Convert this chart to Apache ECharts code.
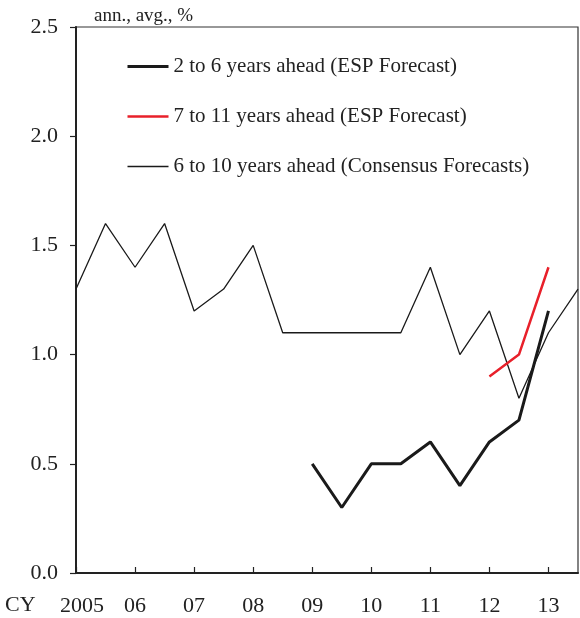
<!DOCTYPE html>
<html><head><meta charset="utf-8">
<script src="https://cdn.jsdelivr.net/npm/echarts@6/dist/echarts.min.js"></script>
<style>html,body{margin:0;padding:0;background:#fff}#c{width:580px;height:618px}</style>
</head><body><div id="c"></div>
<script>
var consensusX = [2005, 2005.5, 2006, 2006.5, 2007, 2007.5, 2008, 2008.5, 2009, 2009.5, 2010, 2010.5, 2011, 2011.5, 2012, 2012.5, 2013, 2013.5];
var consensusY = [1.3, 1.6, 1.4, 1.6, 1.2, 1.3, 1.5, 1.1, 1.1, 1.1, 1.1, 1.1, 1.4, 1.0, 1.2, 0.8, 1.1, 1.3];
var esp26X = [2009, 2009.5, 2010, 2010.5, 2011, 2011.5, 2012, 2012.5, 2013];
var esp26Y = [0.5, 0.3, 0.5, 0.5, 0.6, 0.4, 0.6, 0.7, 1.2];
var esp711X = [2012, 2012.5, 2013];
var esp711Y = [0.9, 1.0, 1.4];
var yearLabels = {2005:'2005',2006:'06',2007:'07',2008:'08',2009:'09',2010:'10',2011:'11',2012:'12',2013:'13'};
var seriesNames = ['2 to 6 years ahead (ESP Forecast)', '7 to 11 years ahead (ESP Forecast)', '6 to 10 years ahead (Consensus Forecasts)'];

function pairs(xs, ys){ return xs.map(function(x,i){ return [x, ys[i]]; }); }
var font = 'Liberation Serif';
var chart = echarts.init(document.getElementById('c'));
chart.setOption({
  animation: false,
  backgroundColor: '#fff',
  grid: { left: 76, right: 2, top: 27, bottom: 45, show: true, borderColor: '#333', borderWidth: 1.2, backgroundColor: 'transparent' },
  title: { text: 'ann., avg., %', left: 89, top: 2, textStyle: { fontFamily: font, fontSize: 19, fontWeight: 'normal', color: '#222' } },
  legend: {
    orient: 'vertical', left: 121, top: 51, itemWidth: 41, itemHeight: 14, itemGap: 29,
    data: seriesNames,
    itemStyle: { opacity: 0 },
    lineStyle: { width: 'inherit' },
    textStyle: { fontFamily: font, fontSize: 21, color: '#222' }
  },
  graphic: [{ type: 'text', left: 5, top: 594, style: { text: 'CY', font: '22px "Liberation Serif"', fill: '#222' } }],
  xAxis: {
    type: 'value', min: 2005, max: 2013.5, interval: 1,
    splitLine: { show: false },
    axisLine: { lineStyle: { color: '#222', width: 2 } },
    axisTick: { inside: true, length: 6, lineStyle: { color: '#222', width: 1.2 } },
    axisLabel: { margin: 22, fontFamily: font, fontSize: 22, color: '#222', showMaxLabel: false,
      formatter: function(v){ return v === 2005 ? '{a|2005}' : (yearLabels[v] || ''); },
      rich: { a: { fontFamily: font, fontSize: 22, color: '#222', padding: [0, 0, 0, 12] } } }
  },
  yAxis: {
    type: 'value', min: 0, max: 2.5, interval: 0.5,
    splitLine: { show: false },
    axisLine: { show: true, lineStyle: { color: '#222', width: 2 } },
    axisTick: { show: true, length: 6, lineStyle: { color: '#222', width: 1.2 } },
    axisLabel: { margin: 18, fontFamily: font, fontSize: 22, color: '#222', formatter: function(v){ return v.toFixed(1); } }
  },
  series: [
    { name: seriesNames[0], type: 'line', data: pairs(esp26X, esp26Y), symbol: 'none', lineStyle: { color: '#1a1a1a', width: 3 }, itemStyle: { color: '#1a1a1a' }, z: 3 },
    { name: seriesNames[1], type: 'line', data: pairs(esp711X, esp711Y), symbol: 'none', lineStyle: { color: '#e8202a', width: 2.5 }, itemStyle: { color: '#e8202a' }, z: 4 },
    { name: seriesNames[2], type: 'line', data: pairs(consensusX, consensusY), symbol: 'none', lineStyle: { color: '#1a1a1a', width: 1.3 }, itemStyle: { color: '#1a1a1a' }, z: 2 }
  ]
});
</script></body></html>
